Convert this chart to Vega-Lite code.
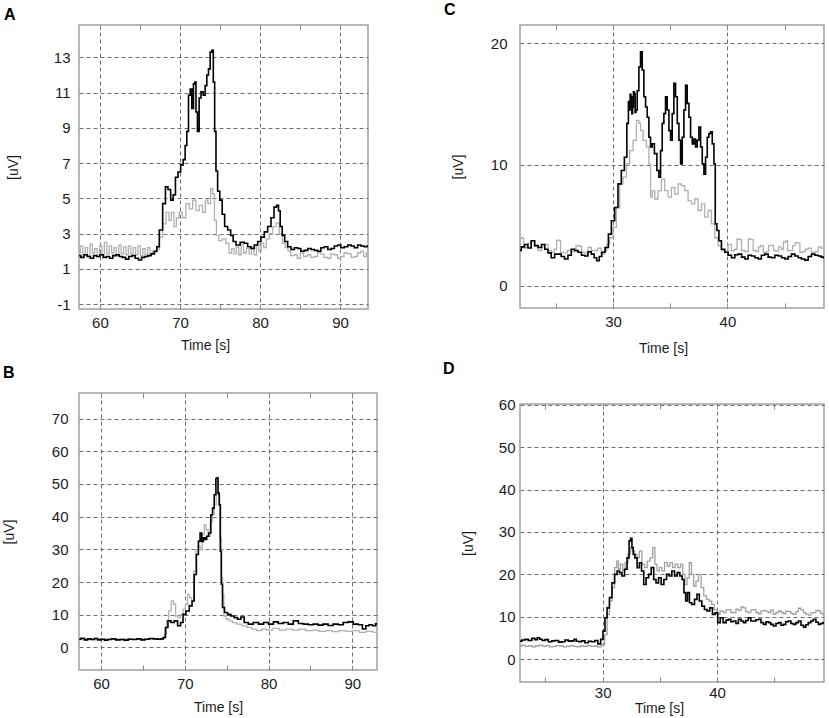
{
  "$schema": "https://vega.github.io/schema/vega-lite/v6.json",
  "background": "white",
  "padding": {"left": 1, "top": 0, "right": 0, "bottom": 0},
  "datasets": {
    "A_gray": [
      {"t":57.4,"v":1.9},{"t":57.7,"v":2.3},{"t":58.0,"v":1.8},{"t":58.3,"v":2.2},{"t":58.6,"v":1.75},{"t":58.9,"v":2.4},{"t":59.2,"v":1.9},{"t":59.5,"v":2.15},{"t":59.8,"v":1.7},{"t":60.1,"v":2.3},{"t":60.4,"v":1.8},{"t":60.7,"v":2.5},{"t":61.0,"v":1.85},{"t":61.3,"v":2.3},{"t":61.6,"v":1.9},{"t":61.9,"v":2.2},{"t":62.2,"v":1.75},{"t":62.5,"v":2.35},{"t":62.8,"v":1.85},{"t":63.1,"v":2.25},{"t":63.4,"v":1.8},{"t":63.7,"v":2.3},{"t":64.0,"v":1.85},{"t":64.3,"v":2.2},{"t":64.6,"v":1.8},{"t":64.9,"v":2.3},{"t":65.2,"v":1.75},{"t":65.5,"v":2.15},{"t":65.8,"v":1.8},{"t":66.1,"v":2.2},{"t":66.4,"v":1.85},{"t":66.7,"v":2.0},{"t":67.0,"v":1.95},
      {"t":67.21,"v":2.1},{"t":67.63,"v":2.8},{"t":68.04,"v":3.55},{"t":68.5,"v":4.2},{"t":68.75,"v":3.75},{"t":69.1,"v":4.2},{"t":69.4,"v":3.4},{"t":69.7,"v":3.9},{"t":70.1,"v":4.2},{"t":70.5,"v":3.9},{"t":70.96,"v":4.7},{"t":71.38,"v":4.4},{"t":71.79,"v":4.9},{"t":72.2,"v":4.3},{"t":72.6,"v":4.6},{"t":73.04,"v":4.2},{"t":73.3,"v":4.9},{"t":73.67,"v":4.7},{"t":74.0,"v":5.55},{"t":74.2,"v":5.25},{"t":74.42,"v":3.75},{"t":74.7,"v":2.9},{"t":75.0,"v":2.6},{"t":75.5,"v":2.7},{"t":75.95,"v":2.45},{"t":76.3,"v":1.9},{"t":76.6,"v":2.15},{"t":76.9,"v":1.85},{"t":77.2,"v":2.25},{"t":77.5,"v":1.8},{"t":77.8,"v":2.35},{"t":78.1,"v":1.9},{"t":78.5,"v":2.15},{"t":78.8,"v":1.85},{"t":79.1,"v":2.25},{"t":79.4,"v":1.8},{"t":79.75,"v":2.35},{"t":80.0,"v":2.0},{"t":80.3,"v":2.45},{"t":80.6,"v":2.2},{"t":80.95,"v":2.7},{"t":81.4,"v":3.0},{"t":81.8,"v":3.4},{"t":82.2,"v":3.6},{"t":82.6,"v":3.0},{"t":83.0,"v":2.45},{"t":83.3,"v":2.2},{"t":83.7,"v":2.0},{"t":84.0,"v":1.75},{"t":84.5,"v":1.8},{"t":84.8,"v":1.6},{"t":85.3,"v":1.9},{"t":85.6,"v":1.7},{"t":86.2,"v":1.8},{"t":86.5,"v":1.65},{"t":87.0,"v":1.7},{"t":87.4,"v":1.9},{"t":87.8,"v":1.85},{"t":88.2,"v":1.65},{"t":88.7,"v":1.6},{"t":89.0,"v":1.85},{"t":89.5,"v":1.8},{"t":89.9,"v":1.6},{"t":90.3,"v":1.7},{"t":90.7,"v":1.9},{"t":91.2,"v":1.85},{"t":91.6,"v":1.65},{"t":92.0,"v":1.7},{"t":92.4,"v":1.9},{"t":92.8,"v":2.0},{"t":93.1,"v":1.7},{"t":93.5,"v":1.9}
    ],
    "A_black": [
      {"t":57.4,"v":1.75},{"t":57.8,"v":1.65},{"t":58.2,"v":1.8},{"t":58.6,"v":1.7},{"t":59.0,"v":1.6},{"t":59.4,"v":1.75},{"t":59.8,"v":1.7},{"t":60.2,"v":1.8},{"t":60.6,"v":1.65},{"t":61.0,"v":1.7},{"t":61.4,"v":1.6},{"t":61.8,"v":1.75},{"t":62.2,"v":1.8},{"t":62.6,"v":1.7},{"t":63.0,"v":1.65},{"t":63.4,"v":1.55},{"t":63.8,"v":1.7},{"t":64.2,"v":1.75},{"t":64.6,"v":1.6},{"t":65.0,"v":1.5},{"t":65.4,"v":1.65},{"t":65.8,"v":1.7},{"t":66.2,"v":1.75},{"t":66.6,"v":1.85},{"t":67.0,"v":2.0},
      {"t":67.21,"v":2.25},{"t":67.63,"v":3.2},{"t":68.04,"v":4.7},{"t":68.33,"v":5.65},{"t":68.67,"v":5.5},{"t":69.0,"v":4.9},{"t":69.29,"v":5.2},{"t":69.58,"v":6.2},{"t":69.92,"v":6.5},{"t":70.25,"v":6.9},{"t":70.54,"v":7.2},{"t":70.75,"v":8.0},{"t":70.96,"v":8.8},{"t":71.17,"v":10.85},{"t":71.38,"v":11.2},{"t":71.58,"v":10.1},{"t":71.79,"v":11.5},{"t":71.92,"v":11.6},{"t":72.08,"v":9.9},{"t":72.29,"v":8.8},{"t":72.5,"v":10.7},{"t":72.75,"v":11.05},{"t":73.04,"v":10.85},{"t":73.25,"v":11.4},{"t":73.46,"v":12.0},{"t":73.67,"v":12.35},{"t":73.88,"v":13.3},{"t":74.08,"v":13.4},{"t":74.25,"v":11.6},{"t":74.42,"v":8.8},{"t":74.58,"v":6.55},{"t":74.83,"v":5.4},{"t":75.13,"v":4.9},{"t":75.42,"v":4.1},{"t":75.75,"v":3.4},{"t":76.17,"v":3.2},{"t":76.5,"v":2.9},{"t":76.79,"v":2.55},{"t":77.21,"v":2.35},{"t":77.83,"v":2.5},{"t":78.25,"v":2.45},{"t":78.67,"v":2.25},{"t":79.08,"v":2.15},{"t":79.5,"v":2.35},{"t":79.92,"v":2.55},{"t":80.33,"v":2.8},{"t":80.75,"v":3.1},{"t":81.17,"v":3.4},{"t":81.58,"v":3.9},{"t":81.92,"v":4.5},{"t":82.21,"v":4.6},{"t":82.42,"v":4.3},{"t":82.63,"v":3.4},{"t":82.92,"v":2.9},{"t":83.25,"v":2.55},{"t":83.67,"v":2.25},{"t":84.08,"v":2.1},{"t":84.5,"v":2.2},{"t":84.92,"v":2.15},{"t":85.3,"v":2.0},{"t":85.75,"v":2.05},{"t":86.2,"v":2.15},{"t":86.58,"v":2.1},{"t":87.0,"v":2.05},{"t":87.42,"v":2.0},{"t":87.8,"v":2.2},{"t":88.25,"v":2.25},{"t":88.7,"v":2.1},{"t":89.08,"v":2.15},{"t":89.5,"v":2.3},{"t":89.92,"v":2.35},{"t":90.3,"v":2.2},{"t":90.75,"v":2.25},{"t":91.2,"v":2.35},{"t":91.58,"v":2.3},{"t":92.0,"v":2.2},{"t":92.42,"v":2.35},{"t":92.8,"v":2.3},{"t":93.25,"v":2.25},{"t":93.5,"v":2.3}
    ],
    "B_gray": [
      {"t":57.4,"v":2.4},{"t":58.0,"v":2.6},{"t":58.6,"v":2.5},{"t":59.2,"v":2.4},{"t":59.8,"v":2.6},{"t":60.4,"v":2.5},{"t":61.0,"v":2.5},{"t":61.6,"v":2.6},{"t":62.2,"v":2.4},{"t":62.8,"v":2.5},{"t":63.4,"v":2.6},{"t":64.0,"v":2.5},{"t":64.6,"v":2.5},{"t":65.2,"v":2.6},{"t":65.8,"v":2.5},{"t":66.4,"v":2.6},{"t":67.0,"v":2.5},{"t":67.4,"v":2.6},
      {"t":67.67,"v":4.05},{"t":67.95,"v":8.1},{"t":68.22,"v":11.15},{"t":68.54,"v":14.2},{"t":68.78,"v":13.2},{"t":69.02,"v":9.6},{"t":69.34,"v":9.1},{"t":69.65,"v":10.1},{"t":69.93,"v":11.7},{"t":70.21,"v":13.2},{"t":70.45,"v":16.2},{"t":70.69,"v":15.2},{"t":70.93,"v":14.2},{"t":71.2,"v":23.3},{"t":71.48,"v":29.9},{"t":71.72,"v":30.9},{"t":71.96,"v":29.9},{"t":72.2,"v":34.5},{"t":72.44,"v":37.5},{"t":72.67,"v":36.0},{"t":72.91,"v":34.0},{"t":73.15,"v":38.5},{"t":73.39,"v":40.6},{"t":73.63,"v":43.6},{"t":73.87,"v":47.7},{"t":74.1,"v":46.7},{"t":74.26,"v":33.5},{"t":74.42,"v":21.3},{"t":74.58,"v":16.2},{"t":74.74,"v":9.6},{"t":75.1,"v":8.6},{"t":75.49,"v":8.1},{"t":75.89,"v":7.6},{"t":76.49,"v":7.1},{"t":77.08,"v":6.6},{"t":77.68,"v":6.1},{"t":78.28,"v":5.6},{"t":78.87,"v":5.1},{"t":79.47,"v":5.6},{"t":80.06,"v":5.3},{"t":80.86,"v":5.8},{"t":81.65,"v":5.3},{"t":82.45,"v":5.6},{"t":83.25,"v":5.3},{"t":84.0,"v":5.6},{"t":84.8,"v":5.1},{"t":85.6,"v":5.3},{"t":86.4,"v":4.9},{"t":87.2,"v":5.1},{"t":88.0,"v":4.8},{"t":88.8,"v":5.1},{"t":89.6,"v":4.9},{"t":90.4,"v":5.1},{"t":91.2,"v":4.6},{"t":92.0,"v":4.9},{"t":92.94,"v":4.6}
    ],
    "B_black": [
      {"t":57.4,"v":2.5},{"t":57.8,"v":2.8},{"t":58.2,"v":2.3},{"t":58.6,"v":2.6},{"t":59.0,"v":2.4},{"t":59.4,"v":2.7},{"t":59.8,"v":2.3},{"t":60.2,"v":2.5},{"t":60.6,"v":2.2},{"t":61.0,"v":2.4},{"t":61.5,"v":2.6},{"t":62.0,"v":2.3},{"t":62.5,"v":2.4},{"t":63.0,"v":2.2},{"t":63.5,"v":2.5},{"t":64.0,"v":2.4},{"t":64.5,"v":2.6},{"t":65.0,"v":2.3},{"t":65.5,"v":2.5},{"t":66.0,"v":2.7},{"t":66.5,"v":2.6},{"t":67.0,"v":2.5},{"t":67.3,"v":2.6},
      {"t":67.55,"v":3.0},{"t":67.83,"v":6.1},{"t":68.14,"v":8.1},{"t":68.54,"v":7.6},{"t":68.94,"v":8.1},{"t":69.34,"v":6.6},{"t":69.65,"v":7.6},{"t":69.93,"v":10.1},{"t":70.33,"v":11.15},{"t":70.73,"v":12.7},{"t":71.0,"v":14.2},{"t":71.24,"v":22.3},{"t":71.52,"v":28.4},{"t":71.72,"v":32.45},{"t":71.92,"v":35.0},{"t":72.12,"v":32.45},{"t":72.32,"v":33.5},{"t":72.51,"v":33.0},{"t":72.71,"v":34.0},{"t":72.99,"v":35.0},{"t":73.23,"v":40.6},{"t":73.39,"v":42.6},{"t":73.63,"v":46.7},{"t":73.79,"v":51.7},{"t":73.91,"v":51.9},{"t":74.02,"v":47.2},{"t":74.18,"v":43.6},{"t":74.3,"v":29.4},{"t":74.42,"v":19.3},{"t":74.58,"v":12.2},{"t":74.9,"v":10.65},{"t":75.3,"v":10.1},{"t":75.69,"v":9.6},{"t":76.09,"v":9.1},{"t":76.49,"v":8.6},{"t":76.89,"v":9.3},{"t":77.28,"v":7.6},{"t":77.88,"v":7.1},{"t":78.47,"v":7.6},{"t":79.1,"v":7.1},{"t":79.7,"v":7.6},{"t":80.3,"v":7.1},{"t":80.85,"v":7.8},{"t":81.45,"v":7.3},{"t":82.05,"v":7.6},{"t":82.65,"v":7.1},{"t":83.25,"v":8.1},{"t":83.85,"v":7.3},{"t":84.45,"v":7.1},{"t":85.05,"v":6.9},{"t":85.6,"v":7.1},{"t":86.2,"v":6.8},{"t":86.8,"v":7.1},{"t":87.4,"v":6.7},{"t":88.0,"v":7.1},{"t":88.6,"v":6.9},{"t":89.2,"v":7.6},{"t":89.8,"v":7.8},{"t":90.4,"v":7.1},{"t":91.0,"v":6.9},{"t":91.4,"v":5.6},{"t":91.8,"v":6.6},{"t":92.2,"v":6.9},{"t":92.6,"v":6.6},{"t":92.94,"v":7.2}
    ],
    "C_gray": [
      {"t":21.84,"v":3.4},{"t":21.98,"v":3.95},{"t":22.13,"v":3.9},{"t":22.25,"v":3.1},{"t":22.42,"v":3.15},{"t":22.7,"v":3.5},{"t":23.0,"v":3.7},{"t":23.3,"v":3.3},{"t":23.59,"v":2.9},{"t":23.9,"v":3.2},{"t":24.17,"v":3.4},{"t":24.45,"v":2.9},{"t":24.75,"v":2.75},{"t":24.95,"v":3.0},{"t":25.19,"v":3.75},{"t":25.35,"v":3.7},{"t":25.48,"v":2.75},{"t":25.8,"v":2.7},{"t":26.21,"v":2.9},{"t":26.6,"v":2.8},{"t":26.94,"v":3.3},{"t":27.15,"v":3.25},{"t":27.38,"v":2.75},{"t":27.7,"v":2.7},{"t":27.96,"v":3.15},{"t":28.25,"v":2.9},{"t":28.54,"v":2.9},{"t":28.8,"v":3.1},{"t":29.13,"v":2.6},{"t":29.35,"v":2.9},{"t":29.56,"v":3.4},
      {"t":29.85,"v":3.95},{"t":30.15,"v":4.8},{"t":30.44,"v":6.45},{"t":30.73,"v":8.4},{"t":31.02,"v":8.95},{"t":31.31,"v":10.05},{"t":31.6,"v":11.15},{"t":31.9,"v":12.0},{"t":32.19,"v":13.65},{"t":32.33,"v":13.4},{"t":32.48,"v":12.8},{"t":32.77,"v":12.0},{"t":33.06,"v":11.45},{"t":33.21,"v":10.05},{"t":33.35,"v":7.3},{"t":33.5,"v":7.85},{"t":33.79,"v":7.15},{"t":34.08,"v":7.85},{"t":34.37,"v":8.8},{"t":34.66,"v":7.85},{"t":34.96,"v":7.3},{"t":35.25,"v":8.1},{"t":35.54,"v":7.55},{"t":35.83,"v":8.4},{"t":36.12,"v":8.25},{"t":36.41,"v":7.85},{"t":36.71,"v":7.0},{"t":37.0,"v":6.75},{"t":37.29,"v":7.15},{"t":37.58,"v":6.2},{"t":37.87,"v":6.75},{"t":38.16,"v":5.65},{"t":38.45,"v":6.2},{"t":38.75,"v":5.1},{"t":39.04,"v":3.95},{"t":39.33,"v":3.3},{"t":39.62,"v":2.9},{"t":39.91,"v":2.75},
      {"t":40.2,"v":3.4},{"t":40.5,"v":2.9},{"t":40.75,"v":3.0},{"t":40.93,"v":3.85},{"t":41.1,"v":3.8},{"t":41.37,"v":2.9},{"t":41.7,"v":2.8},{"t":41.95,"v":3.85},{"t":42.1,"v":3.8},{"t":42.39,"v":2.9},{"t":42.6,"v":2.8},{"t":42.83,"v":3.2},{"t":43.0,"v":3.3},{"t":43.27,"v":2.75},{"t":43.5,"v":2.8},{"t":43.7,"v":3.3},{"t":43.9,"v":3.35},{"t":44.14,"v":2.9},{"t":44.35,"v":2.85},{"t":44.58,"v":3.2},{"t":44.8,"v":3.0},{"t":45.0,"v":3.6},{"t":45.16,"v":3.7},{"t":45.35,"v":2.9},{"t":45.6,"v":2.9},{"t":45.8,"v":3.3},{"t":46.03,"v":3.55},{"t":46.2,"v":3.5},{"t":46.47,"v":2.75},{"t":46.7,"v":2.8},{"t":46.91,"v":3.0},{"t":47.2,"v":3.1},{"t":47.49,"v":2.75},{"t":47.8,"v":2.8},{"t":48.08,"v":3.2},{"t":48.3,"v":3.1},{"t":48.51,"v":2.9}
    ],
    "C_black": [
      {"t":21.84,"v":2.9},{"t":22.13,"v":3.2},{"t":22.42,"v":3.4},{"t":22.7,"v":3.1},{"t":23.0,"v":3.7},{"t":23.3,"v":3.3},{"t":23.59,"v":3.15},{"t":23.9,"v":3.4},{"t":24.17,"v":3.0},{"t":24.45,"v":2.7},{"t":24.75,"v":2.3},{"t":25.05,"v":2.6},{"t":25.34,"v":2.6},{"t":25.6,"v":2.4},{"t":25.92,"v":2.2},{"t":26.2,"v":2.5},{"t":26.5,"v":3.0},{"t":26.8,"v":2.9},{"t":27.08,"v":2.75},{"t":27.4,"v":2.5},{"t":27.67,"v":2.45},{"t":27.95,"v":2.8},{"t":28.25,"v":2.6},{"t":28.45,"v":2.3},{"t":28.69,"v":2.05},{"t":28.9,"v":2.4},{"t":29.13,"v":2.75},{"t":29.48,"v":3.15},
      {"t":29.71,"v":4.25},{"t":30.0,"v":5.35},{"t":30.29,"v":6.45},{"t":30.58,"v":8.4},{"t":30.87,"v":9.5},{"t":31.11,"v":10.6},{"t":31.31,"v":13.4},{"t":31.38,"v":15.2},{"t":31.46,"v":14.5},{"t":31.53,"v":15.8},{"t":31.6,"v":15.6},{"t":31.68,"v":14.2},{"t":31.75,"v":14.75},{"t":31.82,"v":16.0},{"t":31.9,"v":15.85},{"t":31.97,"v":14.3},{"t":32.04,"v":14.5},{"t":32.19,"v":16.1},{"t":32.33,"v":18.05},{"t":32.48,"v":19.3},{"t":32.62,"v":17.8},{"t":32.77,"v":15.6},{"t":32.92,"v":14.75},{"t":33.06,"v":13.9},{"t":33.21,"v":12.25},{"t":33.35,"v":11.45},{"t":33.5,"v":11.7},{"t":33.73,"v":10.9},{"t":33.94,"v":9.5},{"t":34.08,"v":8.95},{"t":34.23,"v":11.15},{"t":34.37,"v":13.4},{"t":34.52,"v":14.2},{"t":34.66,"v":15.6},{"t":34.81,"v":14.5},{"t":34.96,"v":12.8},{"t":35.1,"v":12.0},{"t":35.25,"v":14.2},{"t":35.39,"v":16.7},{"t":35.54,"v":15.6},{"t":35.69,"v":13.4},{"t":35.83,"v":12.0},{"t":35.98,"v":10.05},{"t":36.12,"v":12.25},{"t":36.27,"v":14.5},{"t":36.41,"v":16.55},{"t":36.56,"v":15.05},{"t":36.71,"v":13.9},{"t":36.85,"v":12.25},{"t":37.0,"v":11.7},{"t":37.14,"v":12.1},{"t":37.29,"v":11.45},{"t":37.43,"v":12.0},{"t":37.58,"v":13.1},{"t":37.73,"v":11.45},{"t":37.87,"v":10.05},{"t":38.02,"v":9.2},{"t":38.16,"v":10.6},{"t":38.31,"v":12.25},{"t":38.45,"v":12.55},{"t":38.6,"v":12.7},{"t":38.75,"v":11.7},{"t":38.89,"v":10.05},{"t":38.98,"v":5.1},{"t":39.18,"v":4.55},{"t":39.33,"v":3.7},{"t":39.62,"v":3.0},{"t":39.91,"v":2.75},
      {"t":40.2,"v":2.5},{"t":40.5,"v":2.3},{"t":40.8,"v":2.55},{"t":41.08,"v":2.6},{"t":41.4,"v":2.35},{"t":41.66,"v":2.2},{"t":41.95,"v":2.5},{"t":42.24,"v":2.45},{"t":42.55,"v":2.3},{"t":42.83,"v":2.2},{"t":43.1,"v":2.5},{"t":43.41,"v":2.6},{"t":43.7,"v":2.35},{"t":43.99,"v":2.3},{"t":44.3,"v":2.5},{"t":44.58,"v":2.45},{"t":44.9,"v":2.3},{"t":45.16,"v":2.2},{"t":45.45,"v":2.4},{"t":45.74,"v":2.6},{"t":46.05,"v":2.45},{"t":46.33,"v":2.3},{"t":46.6,"v":2.2},{"t":46.91,"v":2.1},{"t":47.2,"v":2.4},{"t":47.49,"v":2.6},{"t":47.8,"v":2.5},{"t":48.08,"v":2.45},{"t":48.3,"v":2.35},{"t":48.51,"v":2.3}
    ],
    "D_gray": [
      {"t":22.79,"v":3.1},{"t":23.1,"v":3.3},{"t":23.37,"v":3.0},{"t":23.7,"v":3.2},{"t":23.95,"v":2.9},{"t":24.3,"v":3.1},{"t":24.6,"v":3.3},{"t":24.9,"v":3.0},{"t":25.2,"v":3.2},{"t":25.5,"v":2.9},{"t":25.8,"v":3.0},{"t":26.1,"v":3.2},{"t":26.4,"v":3.1},{"t":26.7,"v":2.9},{"t":27.0,"v":3.0},{"t":27.3,"v":3.2},{"t":27.6,"v":3.0},{"t":27.9,"v":2.9},{"t":28.2,"v":3.1},{"t":28.5,"v":3.0},{"t":28.8,"v":3.2},{"t":29.1,"v":3.0},{"t":29.4,"v":3.1},{"t":29.7,"v":2.9},
      {"t":30.06,"v":3.45},{"t":30.29,"v":5.8},{"t":30.49,"v":10.55},{"t":30.7,"v":13.7},{"t":30.93,"v":16.85},{"t":31.16,"v":21.6},{"t":31.31,"v":23.1},{"t":31.45,"v":21.2},{"t":31.66,"v":22.4},{"t":31.86,"v":20.8},{"t":32.09,"v":22.75},{"t":32.33,"v":24.7},{"t":32.5,"v":26.3},{"t":32.67,"v":25.5},{"t":32.91,"v":24.7},{"t":33.11,"v":23.9},{"t":33.31,"v":25.5},{"t":33.55,"v":22.4},{"t":33.78,"v":21.6},{"t":34.01,"v":23.1},{"t":34.27,"v":23.9},{"t":34.48,"v":26.3},{"t":34.65,"v":22.4},{"t":34.85,"v":20.8},{"t":35.06,"v":21.6},{"t":35.29,"v":20.8},{"t":35.52,"v":22.75},{"t":35.76,"v":21.95},{"t":35.99,"v":22.75},{"t":36.22,"v":21.6},{"t":36.45,"v":22.4},{"t":36.69,"v":21.6},{"t":36.92,"v":22.4},{"t":37.09,"v":20.0},{"t":37.27,"v":17.6},{"t":37.47,"v":19.2},{"t":37.67,"v":22.75},{"t":37.85,"v":20.0},{"t":38.05,"v":17.25},{"t":38.26,"v":18.4},{"t":38.49,"v":20.0},{"t":38.72,"v":16.85},{"t":38.95,"v":14.9},{"t":39.19,"v":14.1},{"t":39.42,"v":13.7},{"t":39.65,"v":12.9},{"t":39.88,"v":11.7},{"t":40.12,"v":10.55},
      {"t":40.38,"v":11.35},{"t":40.67,"v":10.95},{"t":40.9,"v":11.6},{"t":41.1,"v":11.7},{"t":41.3,"v":11.0},{"t":41.54,"v":10.95},{"t":41.75,"v":11.8},{"t":41.98,"v":11.5},{"t":42.2,"v":12.3},{"t":42.41,"v":12.1},{"t":42.6,"v":11.2},{"t":42.85,"v":10.95},{"t":43.05,"v":11.6},{"t":43.28,"v":11.7},{"t":43.5,"v":11.0},{"t":43.72,"v":10.7},{"t":43.95,"v":11.4},{"t":44.16,"v":11.5},{"t":44.4,"v":11.2},{"t":44.59,"v":10.95},{"t":44.8,"v":11.6},{"t":45.03,"v":10.55},{"t":45.25,"v":11.0},{"t":45.47,"v":11.35},{"t":45.7,"v":11.0},{"t":45.9,"v":10.7},{"t":46.1,"v":11.3},{"t":46.34,"v":11.2},{"t":46.55,"v":10.8},{"t":46.77,"v":10.55},{"t":47.0,"v":11.2},{"t":47.21,"v":12.0},{"t":47.45,"v":11.6},{"t":47.65,"v":10.95},{"t":47.85,"v":10.6},{"t":48.08,"v":10.4},{"t":48.3,"v":10.9},{"t":48.52,"v":10.95},{"t":48.75,"v":11.5},{"t":48.95,"v":11.35},{"t":49.15,"v":10.8},{"t":49.34,"v":10.55}
    ],
    "D_black": [
      {"t":22.79,"v":4.25},{"t":23.08,"v":4.5},{"t":23.37,"v":4.65},{"t":23.66,"v":4.4},{"t":23.95,"v":4.9},{"t":24.2,"v":4.6},{"t":24.39,"v":5.05},{"t":24.6,"v":4.7},{"t":24.83,"v":4.4},{"t":25.1,"v":4.6},{"t":25.41,"v":4.1},{"t":25.7,"v":4.3},{"t":25.99,"v":4.4},{"t":26.3,"v":4.0},{"t":26.57,"v":4.1},{"t":26.85,"v":4.5},{"t":27.15,"v":4.25},{"t":27.4,"v":4.3},{"t":27.59,"v":4.65},{"t":27.8,"v":4.2},{"t":28.02,"v":4.1},{"t":28.3,"v":4.3},{"t":28.6,"v":3.85},{"t":28.9,"v":4.2},{"t":29.19,"v":4.1},{"t":29.45,"v":4.4},{"t":29.71,"v":3.6},{"t":29.94,"v":4.65},
      {"t":30.12,"v":6.6},{"t":30.29,"v":9.75},{"t":30.49,"v":12.1},{"t":30.7,"v":14.5},{"t":30.93,"v":18.0},{"t":31.16,"v":20.0},{"t":31.37,"v":20.8},{"t":31.57,"v":20.4},{"t":31.8,"v":19.6},{"t":32.03,"v":21.2},{"t":32.24,"v":23.9},{"t":32.38,"v":27.9},{"t":32.5,"v":28.5},{"t":32.62,"v":26.3},{"t":32.73,"v":24.7},{"t":32.91,"v":23.9},{"t":33.11,"v":21.6},{"t":33.31,"v":22.75},{"t":33.49,"v":20.8},{"t":33.69,"v":17.6},{"t":33.9,"v":19.2},{"t":34.13,"v":20.0},{"t":34.36,"v":21.6},{"t":34.56,"v":18.8},{"t":34.77,"v":18.0},{"t":35.0,"v":19.2},{"t":35.23,"v":17.6},{"t":35.47,"v":18.8},{"t":35.7,"v":20.0},{"t":35.93,"v":19.6},{"t":36.16,"v":20.8},{"t":36.4,"v":19.6},{"t":36.63,"v":20.4},{"t":36.86,"v":19.6},{"t":37.03,"v":18.8},{"t":37.18,"v":15.7},{"t":37.33,"v":13.7},{"t":37.5,"v":15.7},{"t":37.67,"v":13.3},{"t":37.91,"v":12.9},{"t":38.14,"v":14.1},{"t":38.34,"v":15.3},{"t":38.55,"v":13.7},{"t":38.78,"v":12.5},{"t":39.01,"v":11.7},{"t":39.24,"v":11.35},{"t":39.48,"v":12.1},{"t":39.71,"v":10.55},{"t":39.94,"v":10.95},
      {"t":40.17,"v":8.6},{"t":40.38,"v":9.75},{"t":40.67,"v":8.6},{"t":40.9,"v":9.2},{"t":41.1,"v":9.4},{"t":41.3,"v":8.8},{"t":41.54,"v":9.0},{"t":41.75,"v":8.4},{"t":41.98,"v":9.4},{"t":42.2,"v":9.0},{"t":42.41,"v":8.6},{"t":42.6,"v":9.1},{"t":42.85,"v":9.75},{"t":43.05,"v":9.0},{"t":43.28,"v":9.0},{"t":43.5,"v":9.3},{"t":43.72,"v":9.4},{"t":43.95,"v":8.6},{"t":44.16,"v":8.2},{"t":44.4,"v":8.8},{"t":44.59,"v":8.6},{"t":44.8,"v":8.2},{"t":45.03,"v":7.8},{"t":45.25,"v":8.4},{"t":45.47,"v":8.6},{"t":45.7,"v":8.0},{"t":45.9,"v":8.2},{"t":46.1,"v":8.8},{"t":46.34,"v":9.0},{"t":46.55,"v":8.4},{"t":46.77,"v":8.2},{"t":47.0,"v":8.6},{"t":47.21,"v":9.0},{"t":47.45,"v":8.0},{"t":47.65,"v":7.55},{"t":47.85,"v":8.1},{"t":48.08,"v":8.6},{"t":48.3,"v":9.0},{"t":48.52,"v":9.4},{"t":48.75,"v":8.7},{"t":48.95,"v":8.2},{"t":49.15,"v":8.4},{"t":49.34,"v":8.6}
    ]
  },
  "hconcat": [
    {
      "spacing": 10,
      "vconcat": [
        {
          "width": 289,
          "height": 284,
          "title": {"text": "A", "dx": -75, "offset": 2},
          "layer": [
            {
              "data": {"name": "A_gray"},
              "mark": {"type": "line", "color": "#b0b0b0", "strokeWidth": 1.3, "interpolate": "step", "clip": true},
              "encoding": {
                "x": {"field": "t", "type": "quantitative", "scale": {"domain": [57.38, 93.5], "nice": false, "zero": false},
                  "axis": {"values": [60, 65, 70, 75, 80, 85, 90], "tickCount": 20, "labelExpr": "datum.value % 10 === 0 ? datum.label : ''",
                    "gridOpacity": {"condition": {"test": "datum.value % 10 === 0", "value": 1}, "value": 0},
                    "ticks": true, "tickSize": -5, "labelPadding": 11, "title": "Time [s]", "titleX": 126, "titleY": 29}},
                "y": {"field": "v", "type": "quantitative", "scale": {"domain": [-1.28, 14.84], "nice": false, "zero": false},
                  "axis": {"values": [-1, 1, 3, 5, 7, 9, 11, 13], "tickCount": 20, "labelExpr": "replace(datum.label, '\u2212', '-')", "ticks": false, "labelPadding": 9, "title": "[uV]", "titleX": -59}}
              }
            },
            {
              "data": {"name": "A_black"},
              "mark": {"type": "line", "color": "#000000", "strokeWidth": 1.6, "interpolate": "step", "clip": true},
              "encoding": {
                "x": {"field": "t", "type": "quantitative",
                  "axis": {"orient": "top", "values": [60, 65, 70, 75, 80, 85, 90], "tickCount": 20, "labels": false, "grid": false, "ticks": true, "tickSize": -5, "title": null}},
                "y": {"field": "v", "type": "quantitative"}
              }
            }
          ],
          "resolve": {"axis": {"x": "independent"}}
        },
        {
          "width": 298,
          "height": 277,
          "title": {"text": "B", "dx": -76, "offset": 12},
          "layer": [
            {
              "data": {"name": "B_gray"},
              "mark": {"type": "line", "color": "#b0b0b0", "strokeWidth": 1.3, "interpolate": "step", "clip": true},
              "encoding": {
                "x": {"field": "t", "type": "quantitative", "scale": {"domain": [57.37, 92.94], "nice": false, "zero": false},
                  "axis": {"values": [60, 65, 70, 75, 80, 85, 90], "tickCount": 20, "labelExpr": "datum.value % 10 === 0 ? datum.label : ''",
                    "gridOpacity": {"condition": {"test": "datum.value % 10 === 0", "value": 1}, "value": 0},
                    "ticks": true, "tickSize": -5, "labelPadding": 11, "title": "Time [s]", "titleX": 139, "titleY": 30}},
                "y": {"field": "v", "type": "quantitative", "scale": {"domain": [-6.93, 77.85], "nice": false, "zero": false},
                  "axis": {"values": [0, 10, 20, 30, 40, 50, 60, 70], "tickCount": 20, "ticks": false, "labelPadding": 11, "title": "[uV]", "titleX": -63}}
              }
            },
            {
              "data": {"name": "B_black"},
              "mark": {"type": "line", "color": "#000000", "strokeWidth": 1.6, "interpolate": "step", "clip": true},
              "encoding": {
                "x": {"field": "t", "type": "quantitative",
                  "axis": {"orient": "top", "values": [60, 65, 70, 75, 80, 85, 90], "tickCount": 20, "labels": false, "grid": false, "ticks": true, "tickSize": -5, "title": null}},
                "y": {"field": "v", "type": "quantitative"}
              }
            }
          ],
          "resolve": {"axis": {"x": "independent"}}
        }
      ]
    },
    {
      "spacing": 4,
      "vconcat": [
        {
          "width": 304,
          "height": 283,
          "title": {"text": "C", "dx": -76, "offset": 7},
          "layer": [
            {
              "data": {"name": "C_gray"},
              "mark": {"type": "line", "color": "#b0b0b0", "strokeWidth": 1.3, "interpolate": "step", "clip": true},
              "encoding": {
                "x": {"field": "t", "type": "quantitative", "scale": {"domain": [21.87, 48.44], "nice": false, "zero": false},
                  "axis": {"values": [25, 30, 35, 40, 45], "tickCount": 20, "labelExpr": "datum.value % 10 === 0 ? datum.label : ''",
                    "gridOpacity": {"condition": {"test": "datum.value % 10 === 0", "value": 1}, "value": 0},
                    "ticks": true, "tickSize": -5, "labelPadding": 11, "title": "Time [s]", "titleX": 143, "titleY": 33}},
                "y": {"field": "v", "type": "quantitative", "scale": {"domain": [-1.85, 21.52], "nice": false, "zero": false},
                  "axis": {"values": [0, 10, 20], "tickCount": 20, "ticks": false, "labelPadding": 13, "title": "[uV]", "titleX": -55}}
              }
            },
            {
              "data": {"name": "C_black"},
              "mark": {"type": "line", "color": "#000000", "strokeWidth": 1.6, "interpolate": "step", "clip": true},
              "encoding": {
                "x": {"field": "t", "type": "quantitative",
                  "axis": {"orient": "top", "values": [25, 30, 35, 40, 45], "tickCount": 20, "labels": false, "grid": false, "ticks": true, "tickSize": -5, "title": null}},
                "y": {"field": "v", "type": "quantitative"}
              }
            }
          ],
          "resolve": {"axis": {"x": "independent"}}
        },
        {
          "width": 304,
          "height": 278,
          "title": {"text": "D", "dx": -77, "offset": 21},
          "layer": [
            {
              "data": {"name": "D_gray"},
              "mark": {"type": "line", "color": "#a0a0a0", "strokeWidth": 1.3, "interpolate": "step", "clip": true},
              "encoding": {
                "x": {"field": "t", "type": "quantitative", "scale": {"domain": [22.78, 49.34], "nice": false, "zero": false},
                  "axis": {"values": [25, 30, 35, 40, 45], "tickCount": 20, "labelExpr": "datum.value % 10 === 0 ? datum.label : ''",
                    "gridOpacity": {"condition": {"test": "datum.value % 10 === 0", "value": 1}, "value": 0},
                    "ticks": true, "tickSize": -5, "labelPadding": 8, "title": "Time [s]", "titleX": 139, "titleY": 19}},
                "y": {"field": "v", "type": "quantitative", "scale": {"domain": [-5.4, 60.2], "nice": false, "zero": false},
                  "axis": {"values": [0, 10, 20, 30, 40, 50, 60], "tickCount": 20, "ticks": false, "labelPadding": 5, "title": "[uV]", "titleX": -45}}
              }
            },
            {
              "data": {"name": "D_black"},
              "mark": {"type": "line", "color": "#000000", "strokeWidth": 1.6, "interpolate": "step", "clip": true},
              "encoding": {
                "x": {"field": "t", "type": "quantitative",
                  "axis": {"orient": "top", "values": [25, 30, 35, 40, 45], "tickCount": 20, "labels": false, "grid": false, "ticks": true, "tickSize": -5, "title": null}},
                "y": {"field": "v", "type": "quantitative"}
              }
            }
          ],
          "resolve": {"axis": {"x": "independent"}}
        }
      ]
    }
  ],
  "spacing": 64,
  "config": {
    "view": {"stroke": "#a0a0a0", "strokeWidth": 1.5},
    "font": "Liberation Sans",
    "axis": {
      "domain": false,
      "grid": true,
      "gridColor": "#6e6e6e",
      "gridDash": [4, 3],
      "gridWidth": 1,
      "tickColor": "#8a8a8a",
      "labelOverlap": false,
      "labelFont": "Liberation Sans",
      "labelFontSize": 15,
      "labelColor": "#1c1c1c",
      "titleFont": "Liberation Sans",
      "titleFontSize": 14,
      "titleFontWeight": "normal",
      "titleColor": "#1c1c1c"
    },
    "title": {"fontSize": 16, "fontWeight": "bold", "anchor": "start", "frame": "group", "font": "Liberation Sans", "color": "#000000"}
  }
}
